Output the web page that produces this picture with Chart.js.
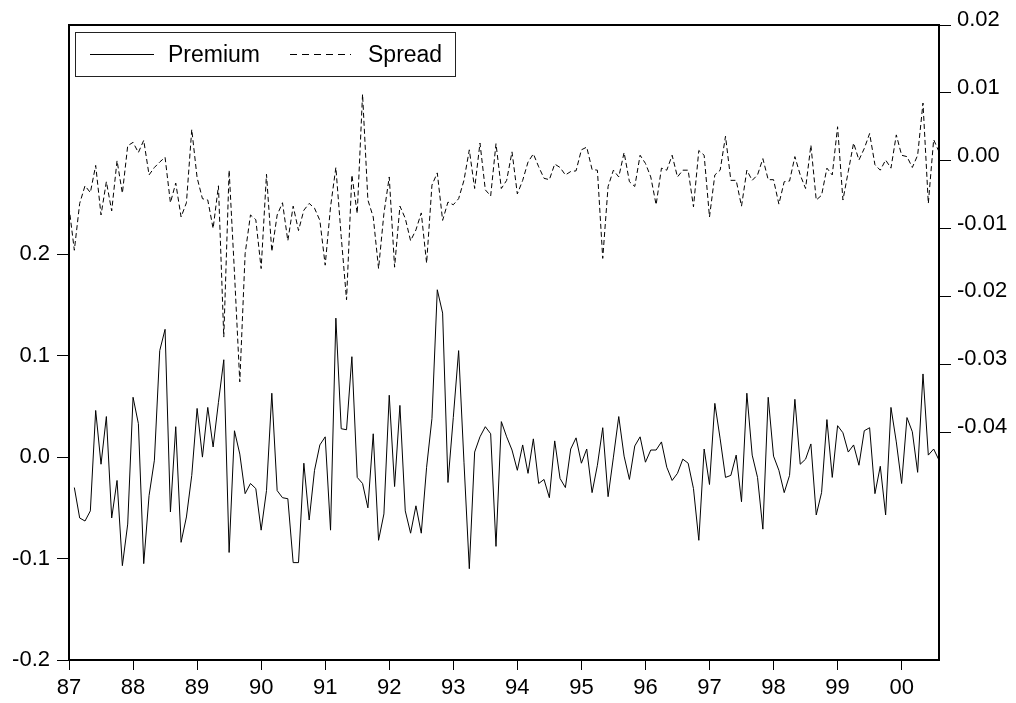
<!DOCTYPE html>
<html>
<head>
<meta charset="utf-8">
<script src="https://cdn.jsdelivr.net/npm/chart.js@4/dist/chart.umd.min.js"></script>
<style>
  body { margin: 0; background: #fff; }
  canvas { display: block; }
</style>
</head>
<body>
<canvas id="chart" width="1016" height="703"></canvas>
<script>
// monthly, 1987M01 .. 2000M08 (index 0..163)
const yearLabels = ["87","88","89","90","91","92","93","94","95","96","97","98","99","00"];
const yearTicks = [0,12,24,36,48,60,72,84,96,108,120,132,144,156];
const leftTicks = [-0.2,-0.1,0.0,0.1,0.2];
const rightTicks = [-0.04,-0.03,-0.02,-0.01,0.00,0.01,0.02];

const premium = [
  null,-0.030,-0.060,-0.063,-0.053,0.046,-0.007,0.040,-0.060,-0.023,-0.107,-0.066,
  0.059,0.033,-0.105,-0.038,-0.003,0.105,0.126,-0.054,0.030,-0.084,-0.059,-0.018,
  0.048,0.000,0.049,0.010,0.054,0.096,-0.094,0.026,0.003,-0.036,-0.026,-0.031,
  -0.072,-0.033,0.063,-0.033,-0.040,-0.041,-0.104,-0.104,-0.006,-0.062,-0.013,0.012,
  0.020,-0.072,0.137,0.028,0.027,0.099,-0.020,-0.026,-0.050,0.023,-0.082,-0.056,
  0.061,-0.029,0.051,-0.053,-0.075,-0.048,-0.075,-0.010,0.038,0.165,0.142,-0.025,
  0.039,0.105,-0.005,-0.110,0.005,0.020,0.030,0.023,-0.088,0.035,0.020,0.007,
  -0.013,0.012,-0.016,0.018,-0.026,-0.022,-0.040,0.016,-0.021,-0.030,0.008,0.019,
  -0.006,0.008,-0.035,-0.008,0.029,-0.039,0.000,0.040,0.001,-0.022,0.011,0.020,
  -0.005,0.007,0.007,0.015,-0.010,-0.023,-0.016,-0.002,-0.006,-0.031,-0.082,0.008,
  -0.027,0.053,0.018,-0.020,-0.018,0.002,-0.044,0.063,0.002,-0.020,-0.071,0.059,
  0.001,-0.013,-0.035,-0.018,0.057,-0.007,-0.002,0.013,-0.057,-0.035,0.037,-0.020,
  0.031,0.024,0.005,0.012,-0.008,0.026,0.029,-0.036,-0.009,-0.057,0.049,0.015,
  -0.026,0.039,0.025,-0.015,0.082,0.002,0.008,-0.003
];

const spread = [
  -0.0068,-0.0132,-0.0063,-0.0037,-0.0047,-0.0007,-0.0080,-0.0031,-0.0074,0.0000,-0.0048,0.0022,
  0.0027,0.0012,0.0030,-0.0021,-0.0010,-0.0002,0.0005,-0.0062,-0.0033,-0.0083,-0.0062,0.0046,
  -0.0025,-0.0056,-0.0058,-0.0100,-0.0037,-0.0260,-0.0014,-0.0165,-0.0326,-0.0137,-0.0080,-0.0087,
  -0.0159,-0.0020,-0.0134,-0.0080,-0.0062,-0.0118,-0.0067,-0.0103,-0.0073,-0.0063,-0.0070,-0.0088,
  -0.0154,-0.0068,-0.0010,-0.0112,-0.0205,-0.0021,-0.0078,0.0098,-0.0058,-0.0083,-0.0159,-0.0078,
  -0.0024,-0.0157,-0.0067,-0.0085,-0.0118,-0.0102,-0.0077,-0.0151,-0.0036,-0.0018,-0.0088,-0.0061,
  -0.0065,-0.0056,-0.0029,0.0016,-0.0041,0.0026,-0.0043,-0.0052,0.0025,-0.0041,-0.0029,0.0013,
  -0.0049,-0.0029,-0.0002,0.0010,-0.0009,-0.0026,-0.0028,-0.0005,-0.0010,-0.0021,-0.0016,-0.0015,
  0.0016,0.0020,-0.0013,-0.0014,-0.0144,-0.0038,-0.0014,-0.0024,0.0012,-0.0031,-0.0038,0.0008,
  -0.0004,-0.0024,-0.0065,-0.0011,-0.0014,0.0008,-0.0024,-0.0014,-0.0014,-0.0068,0.0015,0.0008,
  -0.0083,-0.0021,-0.0014,0.0036,-0.0029,-0.0029,-0.0067,-0.0014,-0.0029,-0.0021,0.0003,-0.0028,
  -0.0028,-0.0064,-0.0031,-0.0030,0.0006,-0.0021,-0.0041,0.0023,-0.0058,-0.0051,-0.0011,-0.0021,
  0.0050,-0.0058,-0.0016,0.0026,0.0001,0.0018,0.0040,-0.0006,-0.0014,0.0001,-0.0011,0.0038,
  0.0008,0.0006,-0.0010,0.0008,0.0085,-0.0063,0.0031,0.0013
];

const FONT = "'Liberation Sans', Arial, sans-serif";

// box round the plot + legend box, EViews style
const framePlugin = {
  id: "frame",
  afterDatasetsDraw(chart) {
    const { ctx, chartArea: a } = chart;
    ctx.save();
    ctx.strokeStyle = "#000";
    ctx.lineWidth = 2;
    ctx.strokeRect(a.left, a.top, a.right - a.left, a.bottom - a.top);

    // legend
    ctx.lineWidth = 1;
    ctx.strokeStyle = "#222";
    ctx.fillStyle = "#fff";
    ctx.fillRect(75.5, 32.5, 380, 44);
    ctx.strokeRect(75.5, 32.5, 380, 44);
    const items = [
      { ds: chart.data.datasets[0], x0: 90, x1: 154, tx: 168 },
      { ds: chart.data.datasets[1], x0: 290, x1: 351, tx: 368 }
    ];
    ctx.font = "23px " + FONT;
    ctx.textBaseline = "alphabetic";
    items.forEach(it => {
      ctx.strokeStyle = "#000";
      ctx.setLineDash(it.ds.borderDash.length ? [7, 5] : []);
      ctx.beginPath();
      ctx.moveTo(it.x0, 54.5);
      ctx.lineTo(it.x1, 54.5);
      ctx.stroke();
      ctx.setLineDash([]);
      ctx.fillStyle = "#000";
      ctx.fillText(it.ds.label, it.tx, 61.5);
    });
    ctx.restore();
  }
};

const toPts = arr => arr.map((v, i) => ({ x: i, y: v }));

new Chart(document.getElementById("chart"), {
  type: "line",
  data: {
    datasets: [
      { label: "Premium", data: toPts(premium), yAxisID: "y", borderColor: "#000", borderWidth: 1, borderDash: [], pointRadius: 0, tension: 0 },
      { label: "Spread", data: toPts(spread), yAxisID: "y2", borderColor: "#000", borderWidth: 1, borderDash: [5, 3], pointRadius: 0, tension: 0 }
    ]
  },
  options: {
    responsive: false,
    devicePixelRatio: 1,
    animation: false,
    layout: { padding: { top: 25, left: 0, right: 0, bottom: 0 } },
    plugins: { legend: { display: false }, tooltip: { enabled: false } },
    scales: {
      x: {
        type: "linear",
        min: 0,
        max: 163,
        afterBuildTicks: s => { s.ticks = yearTicks.map(v => ({ value: v })); },
        afterFit: s => { s.height = 43; },
        ticks: {
          callback: v => yearLabels[yearTicks.indexOf(v)],
          font: { family: FONT, size: 22 },
          color: "#000",
          padding: 5,
          maxRotation: 0,
          autoSkip: false
        },
        grid: { drawOnChartArea: false, drawTicks: true, tickLength: 10, tickColor: "#000", tickWidth: 1 },
        border: { display: false }
      },
      y: {
        position: "left",
        min: -0.2,
        max: 0.426,
        afterBuildTicks: s => { s.ticks = leftTicks.map(v => ({ value: v })); },
        afterFit: s => { s.width = 69; },
        ticks: {
          callback: v => v.toFixed(1),
          font: { family: FONT, size: 22 },
          color: "#000",
          padding: 7
        },
        grid: { drawOnChartArea: false, drawTicks: true, tickLength: 12, tickColor: "#000", tickWidth: 1 },
        border: { display: false }
      },
      y2: {
        position: "right",
        min: -0.0736,
        max: 0.02,
        afterBuildTicks: s => { s.ticks = rightTicks.map(v => ({ value: v })); },
        afterFit: s => { s.width = 77; },
        ticks: {
          callback: v => v.toFixed(2),
          font: { family: FONT, size: 22 },
          color: "#000",
          padding: 6,
          labelOffset: -5
        },
        grid: { drawOnChartArea: false, drawTicks: true, tickLength: 12, tickColor: "#000", tickWidth: 1 },
        border: { display: false }
      }
    }
  },
  plugins: [framePlugin]
});
</script>
</body>
</html>
